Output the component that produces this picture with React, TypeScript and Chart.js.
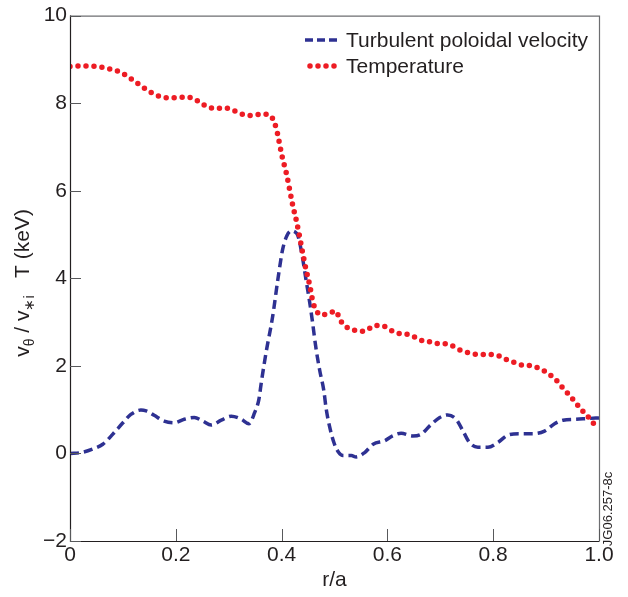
import React, { useEffect, useRef } from "react";
import { Chart, registerables } from "chart.js";

Chart.register(...registerables);

// ---- data ----
const rVelocity = [
  0.0, 0.021, 0.043, 0.062, 0.081, 0.1, 0.115, 0.134, 0.144, 0.159, 0.178, 0.197, 0.216, 0.235, 0.251, 0.267,
  0.286, 0.305, 0.324, 0.338, 0.349, 0.357, 0.362, 0.371, 0.383, 0.393, 0.402, 0.41, 0.418, 0.425, 0.431, 0.439,
  0.446, 0.453, 0.458, 0.465, 0.472, 0.48, 0.484, 0.49, 0.5, 0.508, 0.516, 0.532, 0.541, 0.557, 0.573, 0.595,
  0.61, 0.626, 0.648, 0.664, 0.68, 0.699, 0.714, 0.73, 0.743, 0.755, 0.771, 0.79, 0.809, 0.828, 0.85, 0.875,
  0.897, 0.916, 0.932, 0.957, 0.982, 1.0,
];
const velocity = [
  0.0, 0.02, 0.1, 0.21, 0.44, 0.7, 0.89, 0.99, 0.97, 0.87, 0.74, 0.7, 0.78, 0.82, 0.74, 0.65,
  0.76, 0.85, 0.78, 0.68, 0.93, 1.23, 1.65, 2.33, 3.12, 3.98, 4.66, 4.97, 5.08, 5.06, 4.97, 4.51,
  3.98, 3.46, 3.04, 2.4, 1.9, 1.42, 1.04, 0.65, 0.21, 0.02, -0.05, -0.05, -0.08, 0.02, 0.21, 0.29,
  0.4, 0.46, 0.4, 0.44, 0.63, 0.82, 0.88, 0.78, 0.51, 0.25, 0.14, 0.14, 0.25, 0.42, 0.45, 0.45,
  0.51, 0.68, 0.76, 0.78, 0.8, 0.81,
];
const rTemperature = [
  0.0, 0.018, 0.033, 0.049, 0.065, 0.079, 0.095, 0.108, 0.121, 0.134, 0.146, 0.16, 0.175, 0.19, 0.205, 0.221,
  0.236, 0.249, 0.263, 0.279, 0.294, 0.308, 0.323, 0.338, 0.354, 0.369, 0.382, 0.388, 0.392, 0.395, 0.401, 0.409,
  0.415, 0.421, 0.428, 0.434, 0.44, 0.446, 0.453, 0.459, 0.464, 0.474, 0.489, 0.503, 0.509, 0.518, 0.532, 0.547,
  0.562, 0.575, 0.589, 0.603, 0.617, 0.632, 0.647, 0.661, 0.675, 0.69, 0.705, 0.719, 0.734, 0.748, 0.764, 0.779,
  0.794, 0.81, 0.824, 0.839, 0.854, 0.868, 0.883, 0.897, 0.91, 0.921, 0.932, 0.942, 0.952, 0.962, 0.972, 0.982,
  0.992,
];
const temperature = [
  8.84, 8.85, 8.85, 8.84, 8.81, 8.77, 8.71, 8.62, 8.51, 8.4, 8.3, 8.2, 8.14, 8.12, 8.13, 8.14,
  8.09, 7.99, 7.9, 7.88, 7.89, 7.84, 7.76, 7.72, 7.74, 7.75, 7.67, 7.5, 7.32, 7.14, 6.78, 6.4,
  6.04, 5.67, 5.31, 4.95, 4.57, 4.21, 3.85, 3.47, 3.3, 3.16, 3.2, 3.25, 3.09, 2.93, 2.84, 2.79,
  2.82, 2.92, 2.92, 2.84, 2.75, 2.73, 2.69, 2.59, 2.57, 2.51, 2.51, 2.48, 2.38, 2.32, 2.27, 2.26,
  2.26, 2.23, 2.15, 2.08, 2.02, 2.01, 1.96, 1.88, 1.77, 1.65, 1.49, 1.36, 1.22, 1.07, 0.93, 0.8,
  0.65,
];
const seriesNames = ["Turbulent poloidal velocity", "Temperature"];
const xTickLabels = ["0", "0.2", "0.4", "0.6", "0.8", "1.0"];
const yTickLabels = ["\u22122", "0", "2", "4", "6", "8", "10"];
const xTitle = "r/a";
const figureCode = "JG06.257-8c";

const FONT = "'Liberation Sans', Arial, Helvetica, sans-serif";
const TEXT = "#231f20";
const BLUE = "#2e3192";
const RED = "#ed1c24";
const FS = 21;

const blueStyle = { width: 3.5, dash: [9, 5], cap: "butt" as CanvasLineCap };
const redStyle = { width: 5.5, dash: [0, 8], cap: "round" as CanvasLineCap };

const decorPlugin = {
  id: "decor",
  afterDatasetsDraw(chart: any) {
    const { ctx, chartArea, scales } = chart;
    const { left, right, top, bottom } = chartArea;
    const x = scales.x;
    const y = scales.y;
    ctx.save();
    // frame: top/right grey, left/bottom dark
    ctx.lineWidth = 1.2;
    ctx.strokeStyle = "#6d6e71";
    ctx.beginPath();
    ctx.moveTo(left, top + 0.5);
    ctx.lineTo(right + 0.5, top + 0.5);
    ctx.lineTo(right + 0.5, bottom);
    ctx.stroke();
    ctx.strokeStyle = TEXT;
    ctx.beginPath();
    ctx.moveTo(left + 0.5, top);
    ctx.lineTo(left + 0.5, bottom + 0.5);
    ctx.lineTo(right + 0.5, bottom + 0.5);
    ctx.stroke();
    // inward ticks
    ctx.strokeStyle = "#58595b";
    ctx.lineWidth = 1;
    ctx.beginPath();
    x.ticks.forEach((t: any) => {
      const px = Math.round(x.getPixelForValue(t.value)) + 0.5;
      ctx.moveTo(px, bottom);
      ctx.lineTo(px, bottom - 12);
    });
    y.ticks.forEach((t: any) => {
      const py = Math.round(y.getPixelForValue(t.value)) + 0.5;
      ctx.moveTo(left, py);
      ctx.lineTo(left + 11, py);
    });
    ctx.stroke();

    // legend
    ctx.font = `${FS}px ${FONT}`;
    ctx.fillStyle = TEXT;
    ctx.textBaseline = "middle";
    ctx.textAlign = "left";
    const rows = [
      { y: 40, x0: 305, x1: 337, color: BLUE, st: { ...blueStyle, dash: [8, 4] } },
      { y: 66, x0: 310, x1: 337, color: RED, st: redStyle },
    ];
    rows.forEach((r, i) => {
      ctx.save();
      ctx.strokeStyle = r.color;
      ctx.lineWidth = r.st.width;
      ctx.lineCap = r.st.cap;
      ctx.setLineDash(r.st.dash);
      ctx.beginPath();
      ctx.moveTo(r.x0, r.y);
      ctx.lineTo(r.x1 + (i === 1 ? 1 : 0), r.y);
      ctx.stroke();
      ctx.restore();
      ctx.fillText(seriesNames[i], 346, r.y + 1);
    });

    // x title
    ctx.textAlign = "center";
    ctx.textBaseline = "alphabetic";
    ctx.fillText(xTitle, (left + right) / 2, 586);

    // y title with subscripts
    const parts: [string, boolean][] = [
      ["v", false],
      ["\u03b8", true],
      [" / v", false],
      ["\u2217i", true],
      ["   T (keV)", false],
    ];
    const subFS = 14;
    const widths = parts.map(([s, sub]) => {
      ctx.font = `${sub ? subFS : FS}px ${FONT}`;
      return ctx.measureText(s).width;
    });
    const total = widths.reduce((a, b) => a + b, 0);
    ctx.save();
    ctx.translate(29, 283);
    ctx.rotate(-Math.PI / 2);
    ctx.textAlign = "left";
    let cx = -total / 2;
    parts.forEach(([s, sub], i) => {
      ctx.font = `${sub ? subFS : FS}px ${FONT}`;
      ctx.fillText(s, cx, sub ? 5 : 0);
      cx += widths[i];
    });
    ctx.restore();

    // figure code
    ctx.save();
    ctx.font = `13px ${FONT}`;
    ctx.translate(612, 509);
    ctx.rotate(-Math.PI / 2);
    ctx.textAlign = "center";
    ctx.textBaseline = "alphabetic";
    ctx.fillText(figureCode, 0, 0);
    ctx.restore();

    ctx.restore();
  },
};

export default function App() {
  const ref = useRef<HTMLCanvasElement>(null);
  useEffect(() => {
    document.body.style.margin = "0";
    const chart = new Chart(ref.current as HTMLCanvasElement, {
      type: "line",
      data: {
        datasets: [
          {
            label: seriesNames[1],
            data: rTemperature.map((r, i) => ({ x: r, y: temperature[i] })),
            borderColor: RED,
            borderWidth: redStyle.width,
            borderDash: redStyle.dash,
            borderCapStyle: redStyle.cap,
            pointRadius: 0,
            cubicInterpolationMode: "monotone",
            fill: false,
          },
          {
            label: seriesNames[0],
            data: rVelocity.map((r, i) => ({ x: r, y: velocity[i] })),
            borderColor: BLUE,
            borderWidth: blueStyle.width,
            borderDash: blueStyle.dash,
            borderCapStyle: blueStyle.cap,
            pointRadius: 0,
            cubicInterpolationMode: "monotone",
            fill: false,
          },
        ],
      },
      options: {
        animation: false,
        responsive: false,
        devicePixelRatio: 1,
        layout: { padding: { left: 0, right: 29, top: 11, bottom: 0 } },
        plugins: { legend: { display: false }, tooltip: { enabled: false } },
        scales: {
          x: {
            type: "linear",
            min: 0,
            max: 1,
            grid: { display: false, drawTicks: false },
            border: { display: false },
            ticks: {
              stepSize: 0.2,
              autoSkip: false,
              maxRotation: 0,
              padding: 2,
              color: TEXT,
              font: { family: FONT, size: FS },
              callback: (_v: any, i: number) => xTickLabels[i],
            },
            afterFit: (s: any) => {
              s.height = 56;
            },
          },
          y: {
            type: "linear",
            min: -2,
            max: 10,
            grid: { display: false, drawTicks: false },
            border: { display: false },
            ticks: {
              stepSize: 2,
              padding: 3,
              color: TEXT,
              font: { family: FONT, size: FS },
              callback: (_v: any, i: number) => yTickLabels[i],
            },
            afterFit: (s: any) => {
              s.width = 70;
            },
          },
        },
      },
      plugins: [decorPlugin],
    } as any);
    return () => chart.destroy();
  }, []);
  return (
    <div style={{ width: 628, height: 597 }}>
      <canvas ref={ref} width={628} height={597} style={{ display: "block" }} />
    </div>
  );
}
